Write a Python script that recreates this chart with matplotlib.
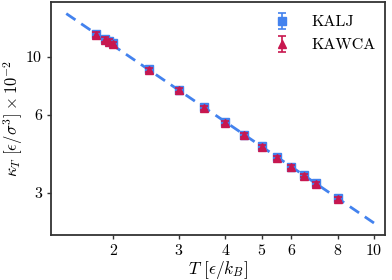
import matplotlib
matplotlib.use("Agg")
import matplotlib.pyplot as plt
from matplotlib.ticker import NullLocator, FixedLocator, FixedFormatter

plt.rcParams["font.family"] = "serif"
plt.rcParams["font.serif"] = ["cmr10", "DejaVu Serif"]
plt.rcParams["mathtext.fontset"] = "cm"
plt.rcParams["axes.unicode_minus"] = False

# temperatures and compressibility (x 1e-2)
T = [1.8, 1.9, 1.95, 2.0, 2.5, 3.0, 3.5, 4.0, 4.5, 5.0, 5.5, 6.0, 6.5, 7.0, 8.0]
kalj = [12.3, 11.75, 11.55, 11.3, 8.95, 7.48, 6.39, 5.61, 5.02, 4.52, 4.12, 3.78, 3.51, 3.26, 2.86]
kalj_err = [0.25, 0.22, 0.22, 0.21, 0.16, 0.13, 0.11, 0.1, 0.09, 0.08, 0.07, 0.07, 0.06, 0.06, 0.05]
kawca = [12.2, 11.67, 11.47, 11.19, 8.89, 7.43, 6.35, 5.58, 4.99, 4.49, 4.09, 3.76, 3.49, 3.24, 2.84]
kawca_err = [0.25, 0.22, 0.22, 0.21, 0.16, 0.13, 0.11, 0.1, 0.09, 0.08, 0.07, 0.07, 0.06, 0.06, 0.05]

# fitted power law, end points
fit_T = [1.5, 10.0]
fit_k = [14.7, 2.29]

xticks = [2, 3, 4, 5, 6, 8, 10]
yticks = [3, 6, 10]

blue = "#4382EE"
red = "#C8174F"

fig = plt.figure(figsize=(3.92, 2.8), dpi=100)
ax = fig.add_axes([0.130, 0.161, 0.852, 0.832])

ax.plot(fit_T, fit_k, "--", color=blue, lw=2, dashes=(4, 2.5), zorder=2)
ax.errorbar(T, kalj, yerr=kalj_err, fmt="s", color=blue, ms=6, capsize=3,
            elinewidth=1.2, capthick=1.2, label="KALJ", zorder=3)
ax.errorbar(T, kawca, yerr=kawca_err, fmt="^", color=red, ms=6, capsize=3,
            elinewidth=1.2, capthick=1.2, label="KAWCA", zorder=4)

ax.set_xscale("log")
ax.set_yscale("log")
ax.set_xlim(1.365, 10.7)
ax.set_ylim(2.06, 16.3)

ax.xaxis.set_major_locator(FixedLocator(xticks))
ax.xaxis.set_major_formatter(FixedFormatter([str(v) for v in xticks]))
ax.yaxis.set_major_locator(FixedLocator(yticks))
ax.yaxis.set_major_formatter(FixedFormatter([str(v) for v in yticks]))
ax.xaxis.set_minor_locator(NullLocator())
ax.yaxis.set_minor_locator(NullLocator())
ax.tick_params(labelsize=11.5, length=3, width=1, color="#333333")

for s in ax.spines.values():
    s.set_linewidth(1.3)
    s.set_color("#333333")

ax.set_xlabel(r"$T\ [\epsilon/k_B]$", fontsize=12.5, labelpad=1)
ax.set_ylabel(r"$\kappa_T\ [\epsilon/\sigma^3] \times 10^{-2}$", fontsize=12, labelpad=1)

ax.legend(loc="upper right", bbox_to_anchor=(1.0, 0.985), frameon=False,
          fontsize=11.5, handletextpad=0.8, borderaxespad=0.2, labelspacing=0.55)

fig.savefig("out.png", dpi=100)
